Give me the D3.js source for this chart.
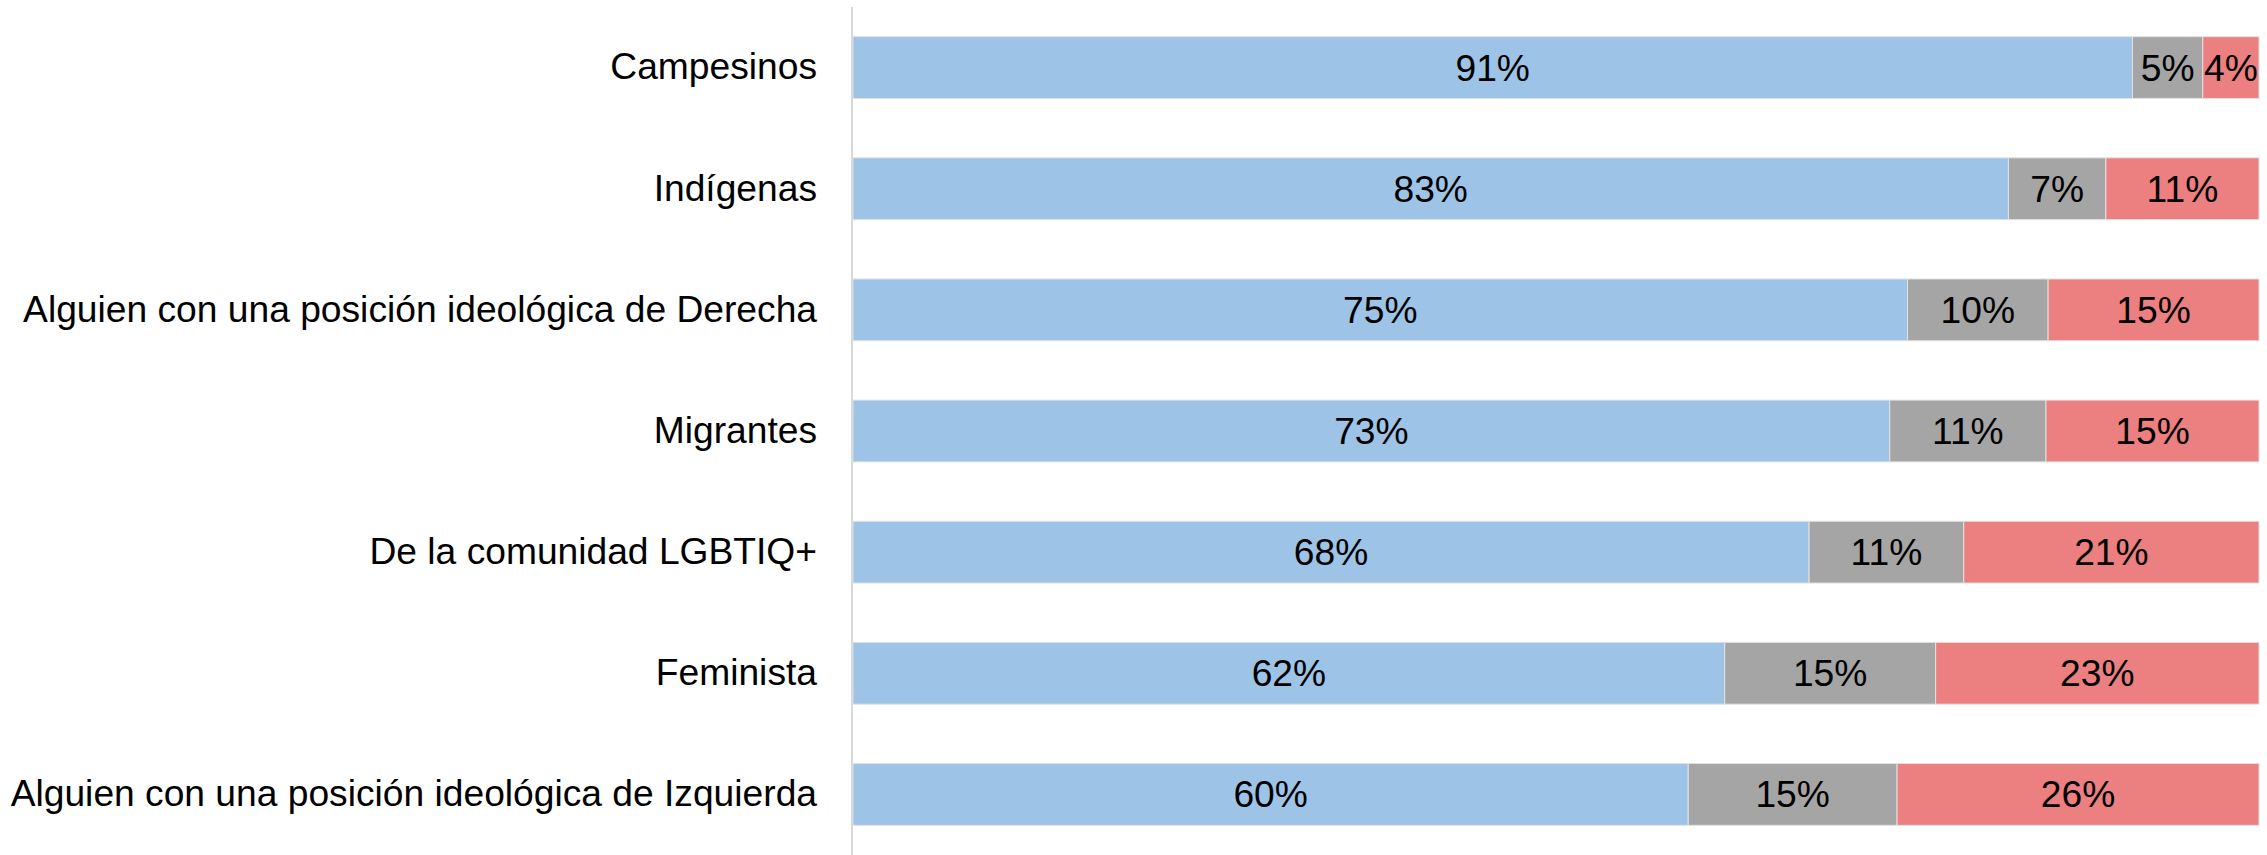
<!DOCTYPE html>
<html>
<head>
<meta charset="utf-8">
<script src="https://cdn.jsdelivr.net/npm/d3@7"></script>
<style>
  html, body { margin: 0; padding: 0; background: #fff; }
  svg { display: block; }
  text { font-family: "Liberation Sans", Arial, sans-serif; fill: #000; }
</style>
</head>
<body>
<svg id="chart" width="2267" height="855"></svg>
<script>
// Groups, top to bottom
const categories = [
  "Campesinos",
  "Indígenas",
  "Alguien con una posición ideológica de Derecha",
  "Migrantes",
  "De la comunidad LGBTIQ+",
  "Feminista",
  "Alguien con una posición ideológica de Izquierda"
];

// Share of responses per group (%)
const positive = [91, 83, 75, 73, 68, 62, 60];
const neutral  = [5, 7, 10, 11, 11, 15, 15];
const negative = [4, 11, 15, 15, 21, 23, 26];

const seriesKeys = ["positive", "neutral", "negative"];
const seriesColors = ["#9DC3E6", "#A5A5A5", "#EC7F7F"];

const rows = categories.map((c, i) => ({
  category: c,
  positive: positive[i],
  neutral: neutral[i],
  negative: negative[i]
}));

const width = 2267, height = 855;
const plotLeft = 853, plotRight = 2259;
const fontSize = 37.2;

const svg = d3.select("#chart");

// 100% stacked: each row is normalised to its own total
const stacked = d3.stack()
  .keys(seriesKeys)
  .offset(d3.stackOffsetExpand)(rows);

const x = d3.scaleLinear().domain([0, 1]).range([plotLeft, plotRight]);
const y = d3.scaleBand()
  .domain(categories)
  .range([7, height])
  .paddingInner(0.49)
  .paddingOuter(0.245);

const color = d3.scaleOrdinal().domain(seriesKeys).range(seriesColors);

// Bar segments
const layers = svg.append("g")
  .selectAll("g")
  .data(stacked)
  .join("g")
  .attr("fill", d => color(d.key));

layers.selectAll("rect")
  .data(d => d.map(p => ({ p, key: d.key })))
  .join("rect")
  .attr("x", d => x(d.p[0]))
  .attr("y", d => y(d.p.data.category))
  .attr("width", d => x(d.p[1]) - x(d.p[0]))
  .attr("height", y.bandwidth())
  .attr("stroke", "#e2e2e2")
  .attr("stroke-width", 1);

// Value labels centred in each segment
layers.selectAll("text")
  .data(d => d.map(p => ({ p, key: d.key })))
  .join("text")
  .attr("x", d => (x(d.p[0]) + x(d.p[1])) / 2)
  .attr("y", d => y(d.p.data.category) + y.bandwidth() / 2)
  .attr("text-anchor", "middle")
  .attr("dominant-baseline", "central")
  .attr("font-size", fontSize)
  .text(d => d.p.data[d.key] + "%");

// Category axis
const yAxis = d3.axisLeft(y).tickSize(0).tickPadding(35);
const gy = svg.append("g")
  .attr("transform", `translate(${plotLeft - 1},0)`)
  .call(yAxis);
gy.select(".domain").remove();
gy.selectAll("text")
  .attr("font-size", fontSize)
  .attr("fill", "#000");

svg.append("line")
  .attr("x1", plotLeft - 1).attr("x2", plotLeft - 1)
  .attr("y1", 7).attr("y2", height)
  .attr("stroke", "#d9d9d9")
  .attr("stroke-width", 2);
</script>
</body>
</html>
